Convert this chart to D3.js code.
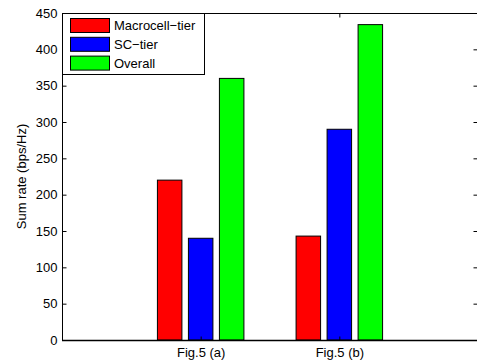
<!DOCTYPE html>
<html>
<head>
<meta charset="utf-8">
<script src="https://cdn.jsdelivr.net/npm/d3@7"></script>
<style>
  html, body { margin: 0; padding: 0; background: #fff; }
  svg { display: block; font-family: "Liberation Sans", Arial, Helvetica, sans-serif; }
</style>
</head>
<body>
<svg id="chart" width="477" height="364"></svg>
<script>
// Sum rate per tier for the two scenarios
const categories = ["Fig.5 (a)", "Fig.5 (b)"];
const seriesNames = ["Macrocell\u2212tier", "SC\u2212tier", "Overall"];
const macrocellTier = [220, 143];
const scTier = [140, 290];
const overall = [360, 434];
const yTicks = [0, 50, 100, 150, 200, 250, 300, 350, 400, 450];
const seriesColors = ["#ff0000", "#0000ff", "#00ff00"];

const seriesValues = [macrocellTier, scTier, overall];

const svg = d3.select("#chart");
const plotLeft = 62, plotRight = 478, plotTop = 13, plotBottom = 340;

// category positions 1..n on a 0..n+1 axis
const x = d3.scaleLinear().domain([0, categories.length + 1]).range([plotLeft, plotRight]);
const y = d3.scaleLinear().domain([0, 450]).range([plotBottom, plotTop]);

const barW = 24.5, barStep = 31;

const g = svg.append("g");

categories.forEach((c, i) => {
  seriesValues.forEach((vals, s) => {
    const cx = x(i + 1) + (s - 1) * barStep;
    g.append("rect")
      .attr("x", cx - barW / 2)
      .attr("y", y(vals[i]))
      .attr("width", barW)
      .attr("height", y(0) - y(vals[i]))
      .attr("fill", seriesColors[s])
      .attr("stroke", "#000")
      .attr("stroke-width", 1);
  });
});

// axes box
const axisColor = "#000";
svg.append("rect")
  .attr("x", plotLeft + 0.5).attr("y", plotTop + 0.5)
  .attr("width", plotRight - plotLeft).attr("height", plotBottom - plotTop)
  .attr("fill", "none").attr("stroke", axisColor).attr("stroke-width", 1);
svg.append("line").attr("x1", plotLeft).attr("x2", plotRight).attr("y1", plotBottom + 0.5).attr("y2", plotBottom + 0.5)
  .attr("stroke", axisColor).attr("stroke-width", 1.6);

// y axis with inward ticks
const yAxis = d3.axisLeft(y).tickValues(yTicks).tickSize(-4).tickPadding(5).tickFormat(d3.format("d"));
const ya = svg.append("g").attr("transform", `translate(${plotLeft + 0.5},0)`).call(yAxis);
ya.select(".domain").remove();
ya.selectAll("line").attr("stroke", axisColor);
ya.selectAll("text").attr("font-size", 13).attr("fill", "#000")
  .attr("font-family", "'Liberation Sans', Arial, sans-serif");

const yaR = svg.append("g").attr("transform", `translate(${plotRight - 0.5},0)`)
  .call(d3.axisRight(y).tickValues(yTicks).tickSize(-4).tickFormat(""));
yaR.select(".domain").remove();
yaR.selectAll("line").attr("stroke", axisColor);

// x axis
const xTickVals = categories.map((c, i) => i + 1);
const xa = svg.append("g").attr("transform", `translate(0,${plotBottom + 0.5})`)
  .call(d3.axisBottom(x).tickValues(xTickVals).tickSize(-4).tickPadding(7)
    .tickFormat((d) => categories[d - 1]));
xa.select(".domain").remove();
xa.selectAll("line").attr("stroke", axisColor);
xa.selectAll("text").attr("font-size", 13).attr("fill", "#000")
  .attr("font-family", "'Liberation Sans', Arial, sans-serif");

const xaT = svg.append("g").attr("transform", `translate(0,${plotTop + 0.5})`)
  .call(d3.axisTop(x).tickValues(xTickVals).tickSize(-4).tickFormat(""));
xaT.select(".domain").remove();
xaT.selectAll("line").attr("stroke", axisColor);

// y label
svg.append("text")
  .attr("transform", `translate(26,${(plotTop + plotBottom) / 2}) rotate(-90)`)
  .attr("text-anchor", "middle")
  .attr("font-size", 13)
  .text("Sum rate (bps/Hz)");

// legend
const lg = svg.append("g");
lg.append("rect").attr("x", plotLeft + 0.5).attr("y", plotTop + 0.5).attr("width", 142).attr("height", 61)
  .attr("fill", "#fff").attr("stroke", "#000").attr("stroke-width", 1);
seriesNames.forEach((n, s) => {
  const yy = 18.5 + s * 18.8;
  lg.append("rect").attr("x", 70.5).attr("y", yy).attr("width", 39).attr("height", 14)
    .attr("fill", seriesColors[s]).attr("stroke", "#000").attr("stroke-width", 1);
  lg.append("text").attr("x", 114).attr("y", yy + 7).attr("dy", "0.36em")
    .attr("font-size", 13).text(n);
});
</script>
</body>
</html>
